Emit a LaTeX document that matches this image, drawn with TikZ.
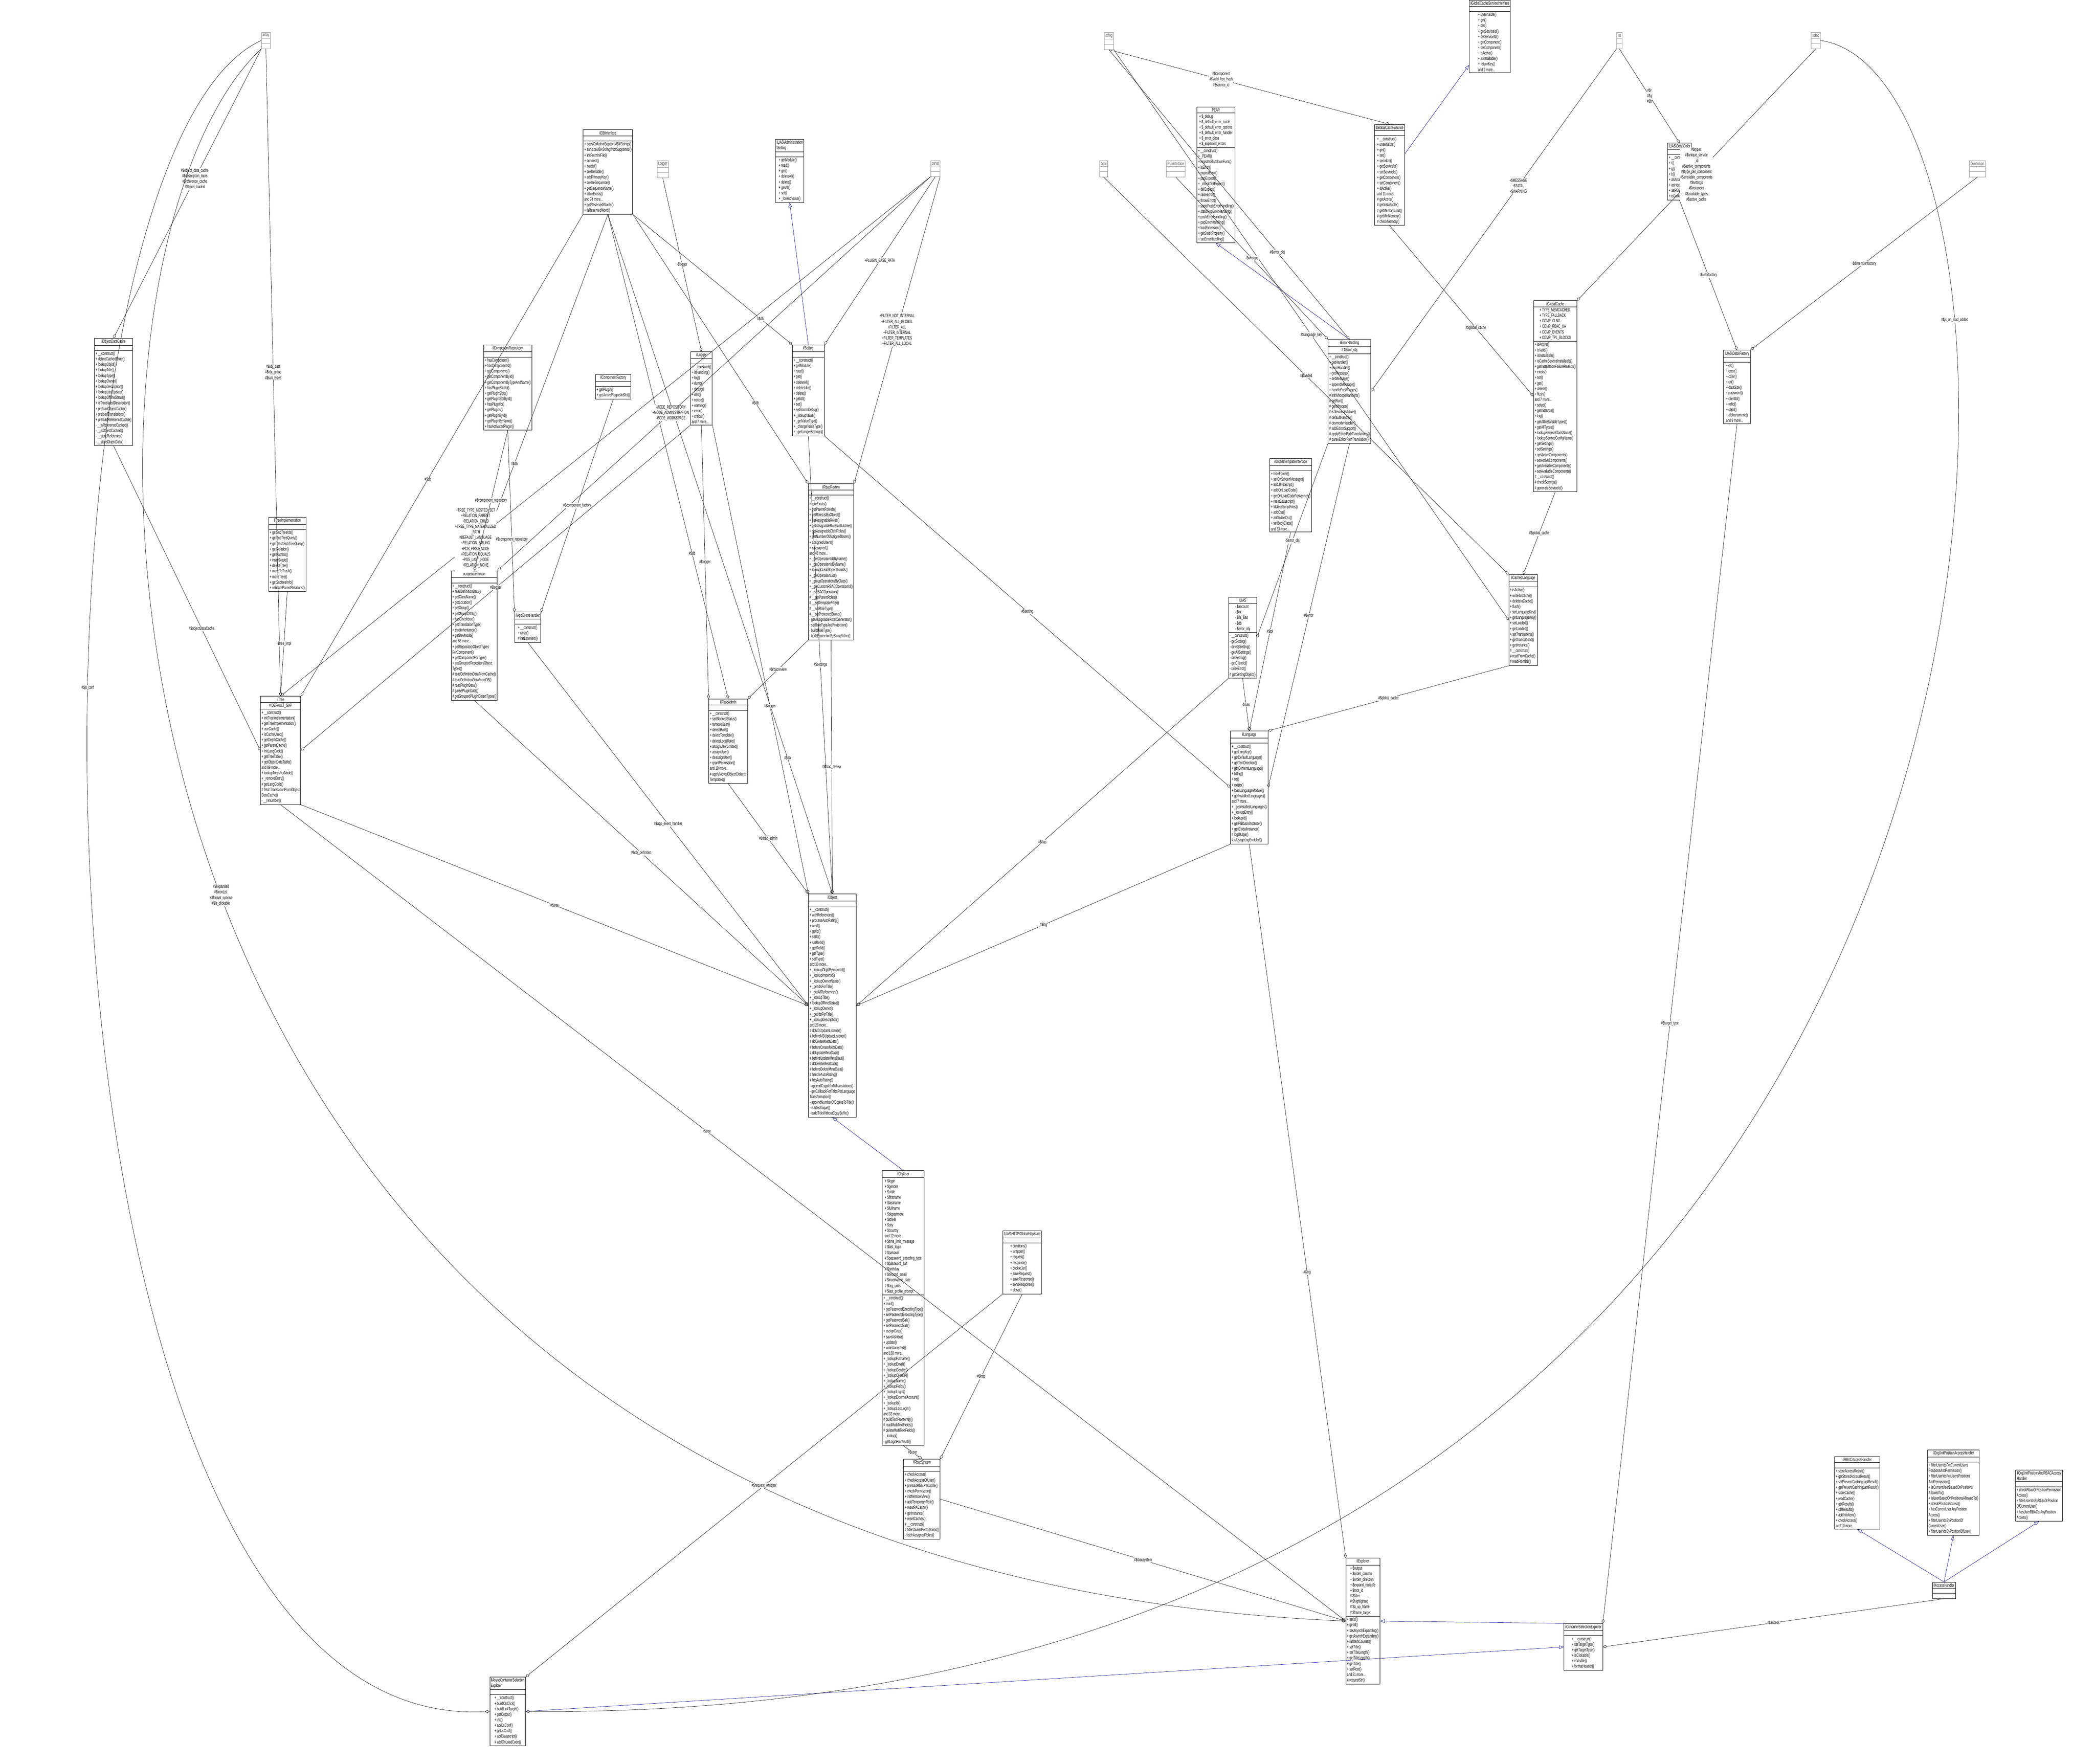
\documentclass[tikz,border=0pt]{standalone}
\usepackage{fontspec}
\setsansfont[FakeStretch=0.62]{Liberation Sans}
\usetikzlibrary{shapes.multipart,arrows.meta}
\tikzset{
  cls/.style={draw,rectangle split,rectangle split parts=3,align=left,
    font=\sffamily\fontsize{4.1}{4.85}\selectfont,inner sep=1pt,fill=white,anchor=north,line width=0.35pt},
  tbox/.style={cls,draw=black!40,text=black!70},
  own/.style={-{Diamond[open,length=4pt,width=2.5pt]},line width=0.25pt},
  isa/.style={-{Triangle[open,length=4pt,width=3pt]},draw=blue!50!black,line width=0.25pt},
  lbl/.style={font=\sffamily\fontsize{4.1}{4.85}\selectfont,align=center,fill=white,inner sep=0.3pt}
}
\newcommand{\nob}{\phantom{x}}
\begin{document}
\begin{tikzpicture}[x=0.0413cm,y=-0.0413cm]
\useasboundingbox (0,0) rectangle (1568,1320);
% basic types
\node[tbox] (array) at (199,24) {array\nodepart{two}\nob\nodepart{three}\nob};
\node[tbox] (string) at (830,24) {string\nodepart{two}\nob\nodepart{three}\nob};
\node[tbox] (int) at (1212,24) {int\nodepart{two}\nob\nodepart{three}\nob};
\node[tbox] (static) at (1359,24) {static\nodepart{two}\nob\nodepart{three}\nob};
\node[tbox] (const) at (700,120) {const\nodepart{two}\nob\nodepart{three}\nob};
\node[tbox] (bool) at (826,120) {bool\nodepart{two}\nob\nodepart{three}\nob};
\node[tbox] (runif) at (880,120) {RunInterface\nodepart{two}\nob\nodepart{three}\nob};
\node[tbox] (logger) at (496,120) {Logger\nodepart{two}\nob\nodepart{three}\nob};
\node[tbox] (dimension) at (1480,120) {Dimension\nodepart{two}\nob\nodepart{three}\nob};
% classes
\node[cls] (gcsi) at (1115,0) {ilGlobalCacheServiceInterface\nodepart{two}\nob\nodepart{three}+ unserialize()\\+ get()\\+ set()\\+ getServiceId()\\+ setServiceId()\\+ getComponent()\\+ setComponent()\\+ isActive()\\+ isInstallable()\\+ returnKey()\\and 9 more...};
\node[cls] (idb) at (455,97) {ilDBInterface\nodepart{two}\nob\nodepart{three}+ doesCollationSupportMB4Strings()\\+ sanitizeMB4StringIfNotSupported()\\+ initFromIniFile()\\+ connect()\\+ nextId()\\+ createTable()\\+ addPrimaryKey()\\+ createSequence()\\+ getSequenceName()\\+ tableExists()\\and 74 more...\\+ getReservedWords()\\+ isReservedWord()};
\node[cls] (adminset) at (591,104) {ILIAS\textbackslash Administration\\\textbackslash Setting\nodepart{two}\nob\nodepart{three}+ getModule()\\+ read()\\+ get()\\+ deleteAll()\\+ delete()\\+ getAll()\\+ set()\\+ \_lookupValue()};
\node[cls] (pear) at (910,80) {PEAR\nodepart{two}+ \$\_debug\\+ \$\_default\_error\_mode\\+ \$\_default\_error\_options\\+ \$\_default\_error\_handler\\+ \$\_error\_class\\+ \$\_expected\_errors\nodepart{three}+ \_\_construct()\\+ \_PEAR()\\+ registerShutdownFunc()\\+ isError()\\+ expectError()\\+ popExpect()\\+ \_checkDelExpect()\\+ delExpect()\\+ raiseError()\\+ throwError()\\+ staticPushErrorHandling()\\+ staticPopErrorHandling()\\+ pushErrorHandling()\\+ popErrorHandling()\\+ loadExtension()\\+ getStaticProperty()\\+ setErrorHandling()};
\node[cls] (gcs) at (1040,93) {ilGlobalCacheService\nodepart{two}\nob\nodepart{three}+ \_\_construct()\\+ unserialize()\\+ get()\\+ set()\\+ serialize()\\+ getServiceId()\\+ setServiceId()\\+ getComponent()\\+ setComponent()\\+ isActive()\\and 11 more...\\\# getActive()\\\# getInstallable()\\\# getMemoryLimit()\\\# getMinMemory()\\\# checkMemory()};
\node[cls] (color) at (1257,107) {ILIAS\textbackslash Data\textbackslash Color\nodepart{two}\nob\nodepart{three}+ \_\_construct()\\+ r()\\+ g()\\+ b()\\+ asArray()\\+ asHex()\\+ asRGBString()\\+ isDark()};
\node[cls] (odc) at (85,253) {ilObjectDataCache\nodepart{two}\nob\nodepart{three}+ \_\_construct()\\+ deleteCachedEntry()\\+ lookupObjId()\\+ lookupTitle()\\+ lookupType()\\+ lookupOwner()\\+ lookupDescription()\\+ lookupLastUpdate()\\+ lookupOfflineStatus()\\+ isTranslatedDescription()\\+ preloadObjectCache()\\+ preloadTranslations()\\+ preloadReferenceCache()\\- \_\_isReferenceCached()\\- \_\_isObjectCached()\\- \_\_storeReference()\\- \_\_storeObjectData()};
\node[cls] (comprep) at (380,258) {ilComponentRepository\nodepart{two}\nob\nodepart{three}+ hasComponent()\\+ hasComponentId()\\+ getComponents()\\+ getComponentById()\\+ getComponentByTypeAndName()\\+ hasPluginSlotId()\\+ getPluginSlots()\\+ getPluginSlotById()\\+ hasPluginId()\\+ getPlugins()\\+ getPluginById()\\+ getPluginByName()\\+ hasActivatedPlugin()};
\node[cls] (compfac) at (459,280) {ilComponentFactory\nodepart{two}\nob\nodepart{three}+ getPlugin()\\+ getActivePluginsInSlot()};
\node[cls] (ilogger) at (525,263) {ilLogger\nodepart{two}\nob\nodepart{three}+ \_\_construct()\\+ isHandling()\\+ log()\\+ dump()\\+ debug()\\+ info()\\+ notice()\\+ warning()\\+ error()\\+ critical()\\and 7 more...};
\node[cls] (setting) at (605,258) {ilSetting\nodepart{two}\nob\nodepart{three}+ \_\_construct()\\+ getModule()\\+ read()\\+ get()\\+ deleteAll()\\+ deleteLike()\\+ delete()\\+ getAll()\\+ set()\\+ setScormDebug()\\+ \_lookupValue()\\+ \_getValueType()\\+ \_changeValueType()\\+ \_getLongerSettings()};
\node[cls] (errh) at (1010,254) {ilErrorHandling\nodepart{two}\# \$error\_obj\nodepart{three}+ \_\_construct()\\+ getHandler()\\+ errorHandler()\\+ getMessage()\\+ setMessage()\\+ appendMessage()\\+ handlePreWhoops()\\\# initWhoopsHandlers()\\\# getRun()\\\# getWhoops()\\\# isDevmodeActive()\\\# defaultHandler()\\\# devmodeHandler()\\\# addEditorSupport()\\\# applyEditorPathTranslations()\\\# parseEditorPathTranslation()};
\node[cls] (gcache) at (1164,225) {ilGlobalCache\nodepart{two}+ TYPE\_MEMCACHED\\+ TYPE\_FALLBACK\\+ COMP\_CLNG\\+ COMP\_RBAC\_UA\\+ COMP\_EVENTS\\+ COMP\_TPL\_BLOCKS\nodepart{three}+ isActive()\\+ isValid()\\+ isInstallable()\\+ isCacheServiceInstallable()\\+ getInstallationFailureReason()\\+ exists()\\+ set()\\+ get()\\+ delete()\\+ flush()\\and 7 more...\\+ setup()\\+ getInstance()\\+ log()\\+ getAllInstallableTypes()\\+ getAllTypes()\\+ lookupServiceClassName()\\+ lookupServiceConfigName()\\+ getSettings()\\+ setSettings()\\+ getActiveComponents()\\+ setActiveComponents()\\+ getAvailableComponents()\\+ setAvailableComponents()\\\# \_\_construct()\\\# checkSettings()\\\# generateServiceId()};
\node[cls] (dfac) at (1300,262) {ILIAS\textbackslash Data\textbackslash Factory\nodepart{two}\nob\nodepart{three}+ ok()\\+ error()\\+ color()\\+ uri()\\+ dataSize()\\+ password()\\+ clientId()\\+ refId()\\+ objId()\\+ alphanumeric()\\and 9 more...};
\node[cls] (gtpl) at (966,343) {ilGlobalTemplateInterface\nodepart{two}\nob\nodepart{three}+ hideFooter()\\+ setOnScreenMessage()\\+ addJavaScript()\\+ addOnLoadCode()\\+ getOnLoadCodeForAsynch()\\+ resetJavascript()\\+ fillJavaScriptFiles()\\+ addCss()\\+ addInlineCss()\\+ setBodyClass()\\and 33 more...};
\node[cls] (treeimpl) at (215,387) {ilTreeImplementation\nodepart{two}\nob\nodepart{three}+ getSubTreeIds()\\+ getSubTreeQuery()\\+ getTrashSubTreeQuery()\\+ getRelation()\\+ getPathIds()\\+ insertNode()\\+ deleteTree()\\+ moveToTrash()\\+ moveTree()\\+ getSubtreeInfo()\\+ validateParentRelations()};
\node[cls] (objdef) at (355,427) {ilObjectDefinition\nodepart{two}\nob\nodepart{three}+ \_\_construct()\\+ readDefinitionData()\\+ getClassName()\\+ getLocation()\\+ getGroup()\\+ getGroupOfObj()\\+ hasCheckbox()\\+ getTranslationType()\\+ stopInheritance()\\+ getDevMode()\\and 53 more...\\+ getRepositoryObjectTypes\\ForComponent()\\+ getComponentForType()\\+ getGroupedRepositoryObject\\Types()\\\# readDefinitionDataFromCache()\\\# readDefinitionDataFromDB()\\\# readPluginData()\\\# parsePluginData()\\\# getGroupedPluginObjectTypes()};
\node[cls] (appev) at (395,458) {ilAppEventHandler\nodepart{two}\nob\nodepart{three}+ \_\_construct()\\+ raise()\\\# initListeners()};
\node[cls] (rbrev) at (622,362) {ilRbacReview\nodepart{two}\nob\nodepart{three}+ \_\_construct()\\+ roleExists()\\+ getParentRoleIds()\\+ getRoleListByObject()\\+ getAssignableRoles()\\+ getAssignableRolesInSubtree()\\+ getAssignableChildRoles()\\+ getNumberOfAssignedUsers()\\+ assignedUsers()\\+ isAssigned()\\and 43 more...\\+ \_getOperationIdsByName()\\+ \_getOperationIdByName()\\+ lookupCreateOperationIds()\\+ \_getOperationList()\\+ \_groupOperationsByClass()\\+ \_getCustomRBACOperationId()\\+ \_isRBACOperation()\\\# \_\_getParentRoles()\\\# \_\_setTemplateFilter()\\\# \_\_setRoleType()\\\# \_\_setProtectedStatus()\\- getAssignableRolesGenerator()\\- setRoleTypeAndProtection()\\- buildRoleType()\\- buildProtectionByStringValue()};
\node[cls] (tree) at (210,521) {ilTree\nodepart{two}\# DEFAULT\_GAP\nodepart{three}+ \_\_construct()\\+ initTreeImplementation()\\+ getTreeImplementation()\\+ useCache()\\+ isCacheUsed()\\+ getDepthCache()\\+ getParentCache()\\+ initLangCode()\\+ getTreeTable()\\+ getObjectDataTable()\\and 89 more...\\+ lookupTreesForNode()\\+ \_removeEntry()\\\# getLangCode()\\\# fetchTranslationFromObject\\DataCache()\\- \_\_renumber()};
\node[cls] (rbadm) at (545,523) {ilRbacAdmin\nodepart{two}\nob\nodepart{three}+ \_\_construct()\\+ setBlockedStatus()\\+ removeUser()\\+ deleteRole()\\+ deleteTemplate()\\+ deleteLocalRole()\\+ assignUserLimited()\\+ assignUser()\\+ deassignUser()\\+ grantPermission()\\and 18 more...\\\# applyMovedObjectDidactic\\Templates()};
\node[cls] (ilias) at (930,447) {ILIAS\nodepart{two}- \$account\\- \$ini\\- \$ini\_ilias\\- \$db\\- \$error\_obj\nodepart{three}- \_\_construct()\\- getSetting()\\- deleteSetting()\\- getAllSettings()\\- setSetting()\\- getClientId()\\- raiseError()\\\# getSettingObject()};
\node[cls] (clang) at (1140,430) {ilCachedLanguage\nodepart{two}\nob\nodepart{three}+ isActive()\\+ writeToCache()\\+ deleteInCache()\\+ flush()\\+ setLanguageKey()\\+ getLanguageKey()\\+ setLoaded()\\+ getLoaded()\\+ setTranslations()\\+ getTranslations()\\+ getInstance()\\\# \_\_construct()\\\# readFromCache()\\\# readFromDB()};
\node[cls] (lang) at (935,547) {ilLanguage\nodepart{two}\nob\nodepart{three}+ \_\_construct()\\+ getLangKey()\\+ getDefaultLanguage()\\+ getTextDirection()\\+ getContentLanguage()\\+ txtlng()\\+ txt()\\+ exists()\\+ loadLanguageModule()\\+ getInstalledLanguages()\\and 7 more...\\+ \_getInstalledLanguages()\\+ \_lookupEntry()\\+ lookupId()\\+ getFallbackInstance()\\+ getGlobalInstance()\\\# logUsage()\\\# isUsageLogEnabled()};
\node[cls] (obj) at (623,669) {ilObject\nodepart{two}\nob\nodepart{three}+ \_\_construct()\\+ withReferences()\\+ processAutoRating()\\+ read()\\+ getId()\\+ setId()\\+ setRefId()\\+ getRefId()\\+ getType()\\+ setType()\\and 30 more...\\+ \_lookupObjIdByImportId()\\+ \_lookupImportId()\\+ \_lookupOwnerName()\\+ \_getIdsForTitle()\\+ \_getAllReferences()\\+ \_lookupTitle()\\+ lookupOfflineStatus()\\+ \_lookupOwner()\\+ \_getIdsForTitle()\\+ \_lookupDescription()\\and 28 more...\\\# doMDUpdateListener()\\\# beforeMDUpdateListener()\\\# doCreateMetaData()\\\# beforeCreateMetaData()\\\# doUpdateMetaData()\\\# beforeUpdateMetaData()\\\# doDeleteMetaData()\\\# beforeDeleteMetaData()\\\# handleAutoRating()\\\# hasAutoRating()\\- appendCopyInfoToTranslations()\\- getCallbackForTitlesPerLanguage\\Transformation()\\- appendNumberOfCopiesToTitle()\\- isTitleUnique()\\- buildTitleWithoutCopySuffix()};
\node[cls] (user) at (676,876) {ilObjUser\nodepart{two}+ \$login\\+ \$gender\\+ \$utitle\\+ \$firstname\\+ \$lastname\\+ \$fullname\\+ \$department\\+ \$street\\+ \$city\\+ \$country\\and 12 more...\\\# \$time\_limit\_message\\\# \$last\_login\\\# \$passwd\\\# \$password\_encoding\_type\\\# \$password\_salt\\\# \$birthday\\\# \$second\_email\\\# \$inactivation\_date\\\# \$org\_units\\\# \$last\_profile\_prompt\nodepart{three}+ \_\_construct()\\+ read()\\+ getPasswordEncodingType()\\+ setPasswordEncodingType()\\+ getPasswordSalt()\\+ setPasswordSalt()\\+ assignData()\\+ saveAsNew()\\+ update()\\+ writeAccepted()\\and 168 more...\\+ \_lookupFullname()\\+ \_lookupEmail()\\+ \_lookupGender()\\+ \_lookupClientIP()\\+ \_lookupName()\\+ \_lookupFields()\\+ \_lookupLogin()\\+ \_lookupExternalAccount()\\+ \_lookupId()\\+ \_lookupLastLogin()\\and 33 more...\\\# buildTextFromArray()\\\# readMultiTextFields()\\\# deleteMultiTextFields()\\- \_lookup()\\- getLoginFromAuth()};
\node[cls] (http) at (765,921) {ILIAS\textbackslash HTTP\textbackslash GlobalHttpState\nodepart{two}\nob\nodepart{three}+ durations()\\+ wrapper()\\+ request()\\+ response()\\+ cookieJar()\\+ saveRequest()\\+ saveResponse()\\+ sendResponse()\\+ close()};
\node[cls] (rbsys) at (690,1092) {ilRbacSystem\nodepart{two}\nob\nodepart{three}+ checkAccess()\\+ checkAccessOfUser()\\+ preloadRbacPaCache()\\+ checkPermission()\\+ initMemberView()\\+ addTemporaryRole()\\+ resetPACache()\\+ getInstance()\\+ resetCaches()\\\# \_\_construct()\\\# filterOwnerPermissions()\\- fetchAssignedRoles()};
\node[cls] (expl) at (1020,1166) {ilExplorer\nodepart{two}+ \$output\\+ \$order\_column\\+ \$order\_direction\\+ \$expand\_variable\\+ \$root\_id\\\# \$filter\\\# \$highlighted\\\# \$a\_up\_frame\\\# \$frame\_target\nodepart{three}+ setId()\\+ getId()\\+ setAsynchExpanding()\\+ getAsynchExpanding()\\+ initItemCounter()\\+ setTitle()\\+ setTitleLength()\\+ getTitleLength()\\+ getTitle()\\+ setRoot()\\and 51 more...\\\# requestStr()};
\node[cls] (rbacah) at (1390,1090) {ilRBACAccessHandler\nodepart{two}\nob\nodepart{three}+ storeAccessResult()\\+ getStoredAccessResult()\\+ setPreventCachingLastResult()\\+ getPreventCachingLastResult()\\+ storeCache()\\+ readCache()\\+ getResults()\\+ setResults()\\+ addInfoItem()\\+ checkAccess()\\and 10 more...};
\node[cls] (orgah) at (1462,1085) {ilOrgUnitPositionAccessHandler\nodepart{two}\nob\nodepart{three}+ filterUserIdsForCurrentUsers\\PositionsAndPermission()\\+ filterUserIdsForUsersPositions\\AndPermission()\\+ isCurrentUserBasedOnPositions\\AllowedTo()\\+ isUserBasedOnPositionsAllowedTo()\\+ checkPositionAccess()\\+ hasCurrentUserAnyPosition\\Access()\\+ filterUserIdsByPositionOf\\CurrentUser()\\+ filterUserIdsByPositionOfUser()};
\node[cls] (orgrbah) at (1526,1100) {ilOrgUnitPositionAndRBACAccess\\Handler\nodepart{two}\nob\nodepart{three}+ checkRbacOrPositionPermission\\Access()\\+ filterUserIdsByRbacOrPosition\\OfCurrentUser()\\+ hasUserRBACorAnyPosition\\Access()};
\node[cls] (acch) at (1455,1184) {ilAccessHandler\nodepart{two}\nob\nodepart{three}\nob};
\node[cls] (cse) at (1185,1215) {ilContainerSelectionExplorer\nodepart{two}\nob\nodepart{three}+ \_\_construct()\\+ setTargetType()\\+ getTargetType()\\+ isClickable()\\+ isVisible()\\+ formatHeader()};
\node[cls,rectangle split part fill={black!25,black!25,black!25}] (acse) at (380,1255) {ilAsyncContainerSelection\\Explorer\nodepart{two}\nob\nodepart{three}+ \_\_construct()\\+ buildOnClick()\\+ buildLinkTarget()\\+ getOutput()\\+ init()\\+ addJsConf()\\+ getJsConf()\\+ addJavascript()\\\# addOnLoadCode()};
% inheritance
\draw[isa] (gcs) -- (gcsi);
\draw[isa] (setting.north) -- (adminset.south);
\draw[isa] (errh.north) -- (pear.south);
\draw[isa] (user.north) -- (obj.south);
\draw[isa] (acch.north) -- (rbacah.south);
\draw[isa] (acch.north) -- (orgah.south);
\draw[isa] (acch.north) -- (orgrbah.south);
\draw[isa] (cse.north west) -- (expl.east);
\draw[isa] (acse.east) -- (cse.west);
% ownership
\draw[own] (array.south west) -- node[lbl,pos=0.45]{\#\$object\_data\_cache\\\#\$description\_trans\\\#\$reference\_cache\\\#\$trans\_loaded} (odc.north);
\draw[own] (array.south) -- node[lbl,pos=0.5]{\#\$obj\_data\\\#\$obj\_group\\\#\$sub\_types} (tree.north);
\draw[own] (array.west) .. controls (0,120) and (0,1300) .. node[lbl,pos=0.4]{\#\$js\_conf} (acse.west);
\draw[own] (array.south west) .. controls (20,200) and (20,1170) .. node[lbl,pos=0.5]{+\$expanded\\\#\$iconList\\+\$format\_options\\\#\$is\_clickable} (expl.west);
\draw[own] (idb.south west) -- node[lbl,pos=0.55]{\#\$db} (tree.north east);
\draw[own] (idb.south) -- node[lbl,pos=0.7]{\#\$db} (objdef.north);
\draw[own] (idb.south east) -- node[lbl,pos=0.8]{\#\$db} (setting.north west);
\draw[own] (idb.south east) -- node[lbl,pos=0.7]{\#\$db} (rbrev.north west);
\draw[own] (idb.south) -- node[lbl,pos=0.7]{\#\$db} (rbadm.north);
\draw[own] (idb.south) -- node[lbl,pos=0.8]{\#\$db} (obj.north);
\draw[own] (logger.south) -- node[lbl,pos=0.5]{-\$logger} (ilogger.north);
\draw[own] (ilogger.south west) -- node[lbl,pos=0.5]{\#\$logger} (tree.east);
\draw[own] (ilogger.south) -- node[lbl,pos=0.5]{\#\$logger} (rbadm.north west);
\draw[own] (ilogger.south east) -- node[lbl,pos=0.6]{\#\$logger} (obj.north west);
\draw[own] (const.south) -- node[lbl,pos=0.5]{+PLUGIN\_BASE\_PATH} (setting.north east);
\draw[own] (const.south east) -- node[lbl,pos=0.5]{+FILTER\_NOT\_INTERNAL\\+FILTER\_ALL\_GLOBAL\\+FILTER\_ALL\\+FILTER\_INTERNAL\\+FILTER\_TEMPLATES\\+FILTER\_ALL\_LOCAL} (rbrev.north east);
\draw[own] (const.south west) -- node[lbl,pos=0.6]{-MODE\_REPOSITORY\\+MODE\_ADMINISTRATION\\-MODE\_WORKSPACE} (objdef.north east);
\draw[own] (const.south west) -- node[lbl,pos=0.7]{+TREE\_TYPE\_NESTED\_SET\\+RELATION\_PARENT\\+RELATION\_CHILD\\+TREE\_TYPE\_MATERIALIZED\\\_PATH\\\#DEFAULT\_LANGUAGE\\+RELATION\_SIBLING\\+POS\_FIRST\_NODE\\+RELATION\_EQUALS\\+POS\_LAST\_NODE\\+RELATION\_NONE\\...} (tree.north);
\draw[own] (comprep.south) -- node[lbl,pos=0.5]{\#\$component\_repository} (objdef.north);
\draw[own] (comprep.south) -- node[lbl,pos=0.6]{\#\$component\_repository} (appev.north west);
\draw[own] (compfac.south) -- node[lbl,pos=0.5]{\#\$component\_factory} (appev.north east);
\draw[own] (treeimpl.south) -- node[lbl]{-\$tree\_impl} (tree.north);
\draw[own] (odc.south) -- node[lbl,pos=0.6]{\#\$objectDataCache} (tree.west);
\draw[own] (objdef.south) -- node[lbl,pos=0.5]{\#\$obj\_definition} (obj.west);
\draw[own] (appev.south) -- node[lbl,pos=0.5]{\#\$app\_event\_handler} (obj.west);
\draw[own] (tree.south east) -- node[lbl,pos=0.5]{\#\$tree} (obj.west);
\draw[own] (tree.south) -- node[lbl,pos=0.4]{+\$tree} (expl.west);
\draw[own] (rbrev.south west) -- node[lbl,pos=0.5]{\#\$rbacreview} (rbadm.north east);
\draw[own] (rbrev.south) -- node[lbl,pos=0.5]{\#\$rbac\_review} (obj.north);
\draw[own] (rbadm.south) -- node[lbl,pos=0.5]{\#\$rbac\_admin} (obj.north west);
\draw[own] (user.south) -- node[lbl,pos=0.5]{\#\$user} (rbsys.north);
\draw[own] (http.south) -- node[lbl,pos=0.5]{\#\$http} (rbsys.north east);
\draw[own] (rbsys.east) -- node[lbl,pos=0.5]{\#\$rbacsystem} (expl.west);
\draw[own] (setting.south east) -- node[lbl,pos=0.5]{\#\$setting} (lang.west);
\draw[own] (setting.south) -- node[lbl,pos=0.5]{\#\$settings} (obj.north);
\draw[own] (lang.south west) -- node[lbl,pos=0.5]{\#\$lng} (obj.east);
\draw[own] (lang.south) -- node[lbl,pos=0.6]{\#\$lng} (expl.north west);
\draw[own] (ilias.south) -- node[lbl]{-\$ilias} (lang.north);
\draw[own] (ilias.south west) -- node[lbl,pos=0.5]{\#\$ilias} (obj.east);
\draw[own] (clang.south west) -- node[lbl,pos=0.5]{\#\$global\_cache} (lang.north east);
\draw[own] (gcache.south) -- node[lbl,pos=0.5]{\#\$global\_cache} (clang.north);
\draw[own] (gcs.south) -- node[lbl,pos=0.6]{\#\$global\_cache} (gcache.west);
\draw[own] (gtpl.south) -- node[lbl,pos=0.5]{\#\$tpl} (lang.north);
\draw[own] (errh.south west) -- node[lbl,pos=0.5]{-\$error\_obj} (ilias.east);
\draw[own] (errh.south) -- node[lbl,pos=0.5]{\#\$error} (lang.east);
\draw[own] (int.south) -- node[lbl,pos=0.5]{\#\$r\\\#\$g\\\#\$b} (color.north);
\draw[own] (int.south west) -- node[lbl,pos=0.4]{+\$MESSAGE\\+\$FATAL\\+\$WARNING} (errh.east);
\draw[own] (static.south) -- node[lbl,pos=0.5]{\#\$types\\\#\$unique\_service\\\_id\\\#\$active\_components\\\#\$type\_per\_component\\\#\$available\_components\\\#\$settings\\\#\$instances\\\#\$available\_types\\\#\$active\_cache} (gcache.north east);
\draw[own] (static.east) .. controls (1568,60) and (1568,1290) .. node[lbl,pos=0.25]{\#\$js\_on\_load\_added} (acse.east);
\draw[own] (color.south) -- node[lbl,pos=0.5]{-\$colorfactory} (dfac.north);
\draw[own] (dimension.south) -- node[lbl,pos=0.5]{-\$dimensionfactory} (dfac.north east);
\draw[own] (string.south) -- node[lbl,pos=0.4]{\#\$component\\\#\$valid\_key\_hash\\\#\$service\_id} (gcs.north);
\draw[own] (string.south east) -- node[lbl,pos=0.5]{\#\$language\_key} (clang.west);
\draw[own] (string.south) -- node[lbl,pos=0.7]{\#\$error\_obj} (errh.north);
\draw[own] (bool.south) -- node[lbl,pos=0.5]{\#\$loaded} (clang.north west);
\draw[own] (runif.south) -- node[lbl,pos=0.5]{-\$whoops} (errh.north west);
\draw[own] (acch.south) -- node[lbl,pos=0.5]{\#\$access} (cse.east);
\draw[own] (dfac.south) -- node[lbl,pos=0.5]{\#\$target\_type} (cse.north east);
\draw[own] (http.south west) -- node[lbl,pos=0.5]{\#\$request\_wrapper} (acse.north east);
\end{tikzpicture}
\end{document}
